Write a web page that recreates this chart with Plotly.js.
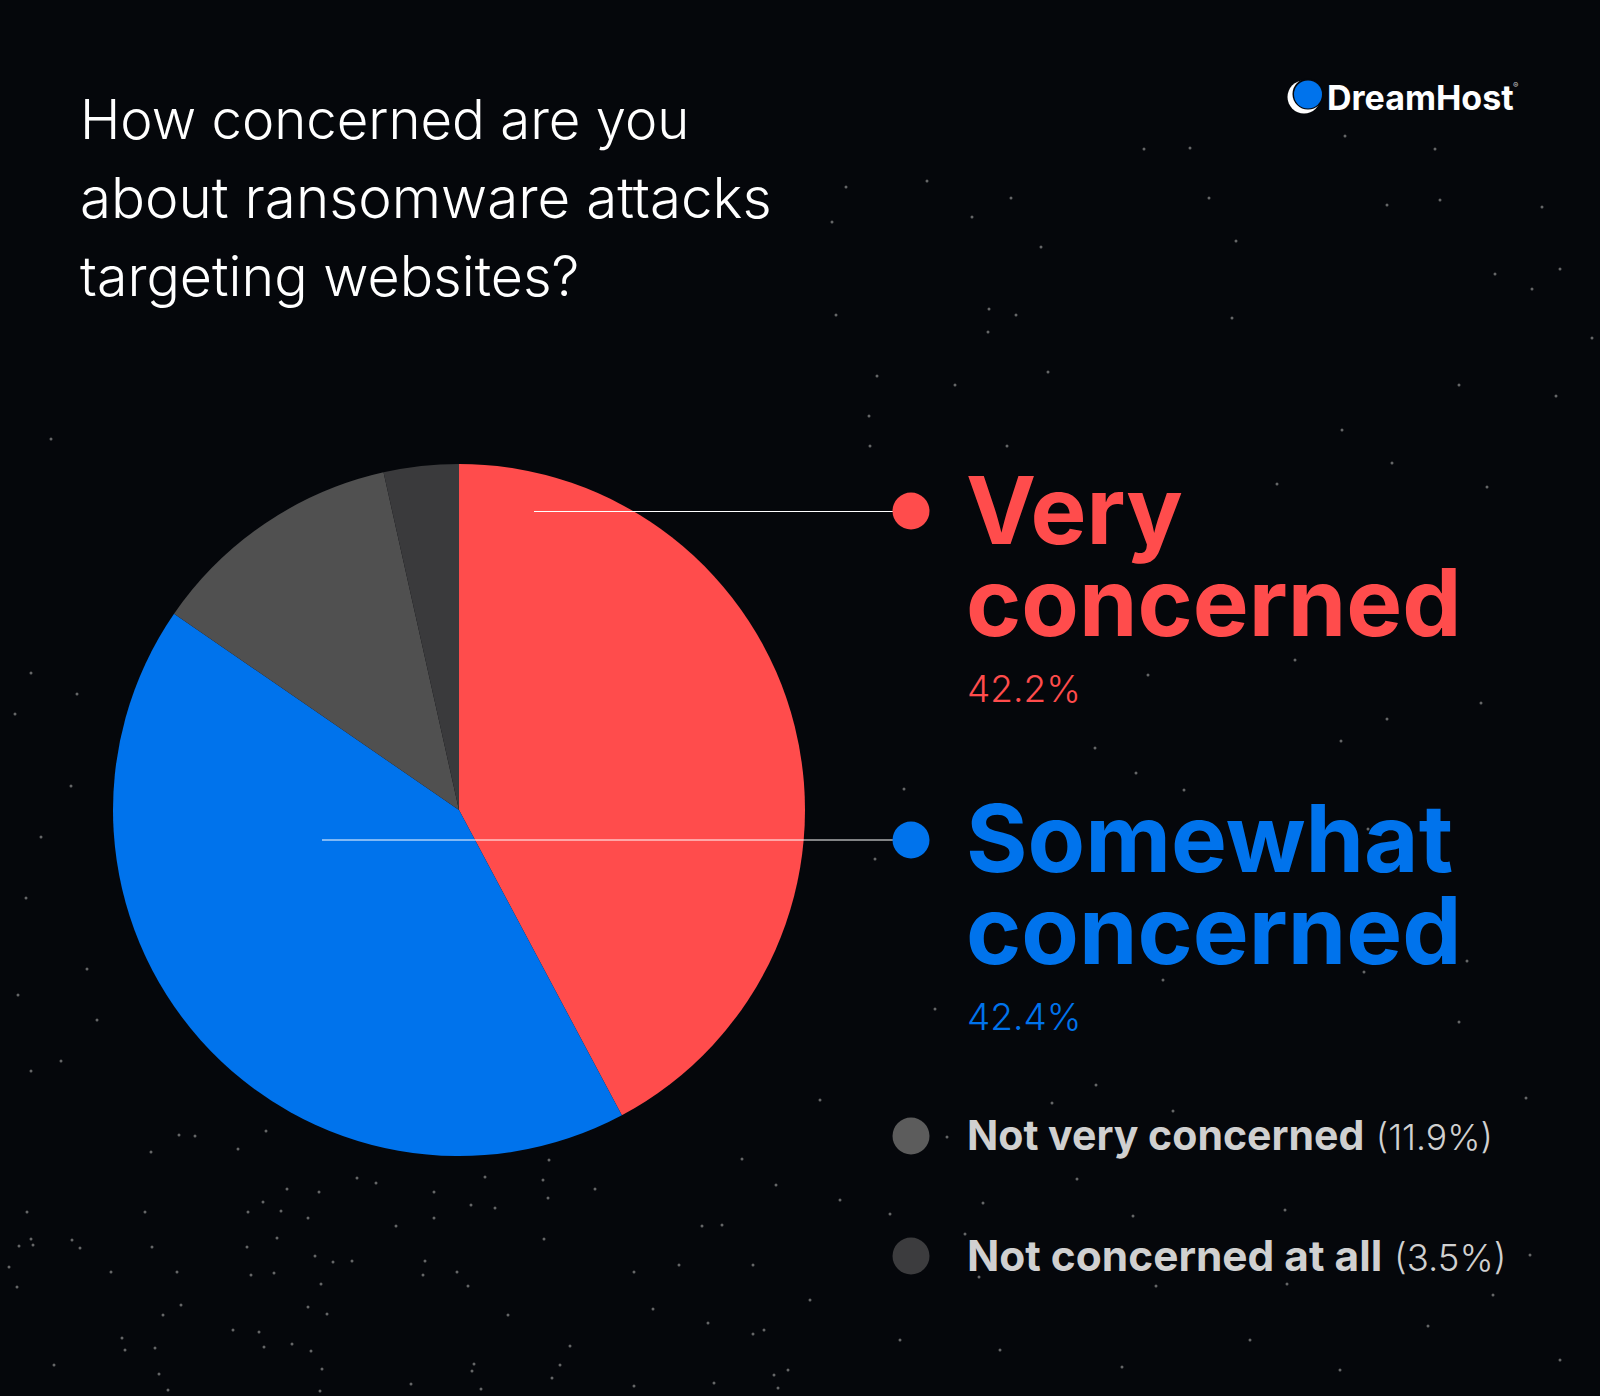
<!DOCTYPE html>
<html><head><meta charset="utf-8">
<script src="https://cdn.plot.ly/plotly-3.0.1.min.js"></script>
<style>html,body{margin:0;padding:0;background:#05070b}</style></head>
<body><div id="chart" style="width:1600px;height:1396px"></div>
<script>
const categories = ["Very concerned","Somewhat concerned","Not very concerned","Not concerned at all"];
const values = [42.2,42.4,11.9,3.5];
const colors = ["#ff4c4c","#0073ec","#505050","#3a3a3c"];
const titleLines = ["How concerned are you","about ransomware attacks","targeting websites?"];
const titleSizes = [54.5,56.5,55.5];
const specksX = [179,195,266,151,238,357,376,485,543,595,548,549,742,776,319,287,263,248,281,145,27,308,434,471,495,434,396,722,702,31,19,33,72,80,152,247,277,544,315,333,352,425,9,111,177,251,274,423,457,634,679,753,321,468,17,181,308,327,163,653,508,708,233,259,764,753,122,155,125,292,311,264,570,560,474,472,322,54,159,774,788,714,552,320,481,411,168,778,634,
1345,1435,1144,1190,846,927,1011,1209,1440,1387,1542,972,832,1236,1041,1495,1560,1532,836,989,1016,1232,988,1592,1048,955,877,1459,1556,869,1342,870,1007,
1392,1277,1487,1295,1148,1481,1387,1341,1095,1136,904,1184,1368,875,1163,1467,1364,1459,935,
1096,1173,1052,947,1077,983,890,1133,965,1285,979,1156,1287,1493,1526,
51,31,77,41,26,87,31,61,97,18,71,15,1122,1428,1530,1250,1000,900,1340,1560,820,840,810];
const specksY = [1135,1136,1131,1152,1149,1178,1183,1177,1180,1189,1198,1160,1159,1185,1192,1189,1202,1212,1211,1212,1212,1218,1192,1205,1208,1218,1226,1225,1226,1239,1246,1245,1240,1248,1247,1247,1238,1239,1256,1262,1261,1261,1267,1272,1272,1275,1273,1275,1272,1272,1265,1265,1284,1286,1287,1305,1307,1314,1315,1309,1315,1323,1330,1332,1330,1334,1338,1348,1350,1344,1351,1347,1346,1365,1364,1371,1369,1365,1374,1375,1370,1383,1378,1391,1389,1384,1390,1388,1386,
136,149,149,148,187,181,198,198,200,205,207,217,222,241,247,274,269,289,315,309,315,318,332,338,372,385,376,385,396,416,430,446,446,
463,484,487,660,675,703,719,741,748,773,789,790,829,859,980,961,972,1022,1009,
1085,1111,1103,1137,1179,1203,1214,1216,1234,1210,1277,1286,1284,1295,1098,
439,673,694,837,898,969,1071,1061,1020,995,786,714,1367,1326,1255,1340,1350,1340,1370,1360,1100,1200,1300];
const FONT = "Inter, sans-serif";
const W=1600,H=1396;
const ann=[];
function t(x,y,text,size,color,weight){ann.push({x,y,xref:'x',yref:'y',xanchor:'left',yanchor:'middle',showarrow:false,text,align:'left',borderpad:0,font:{family:FONT,size,color,weight}});}
titleLines.forEach((s,i)=>t(79,119+i*78,s,titleSizes[i],"#ffffff",300));
t(965,510,"Very",94,colors[0],700);
t(965,602,"concerned",94,colors[0],700);
t(966,688,"42.2%",37,colors[0],300);
t(965,838,"Somewhat",94,colors[1],700);
t(965,930,"concerned",94,colors[1],700);
t(966,1016,"42.4%",37,colors[1],300);
t(966,1135,'<b>Not very concerned</b> <span style="font-size:35.5px">(11.9%)</span>',41,"#d0d0d0",300);
t(966,1255,'<b>Not concerned at all</b> <span style="font-size:36.5px">(3.5%)</span>',42.4,"#d0d0d0",300);
t(1326,97,"<b>DreamHost</b>",34,"#ffffff",700);
t(1512,85,"®",8,"#c8c8c8",400);
function circle(cx,cy,r,c){return {type:'circle',xref:'x',yref:'y',x0:cx-r,x1:cx+r,y0:cy-r,y1:cy+r,fillcolor:c,line:{width:0}};}
function line(x0,x1,y){return {type:'line',xref:'x',yref:'y',x0,x1,y0:y,y1:y,line:{color:'#ffffff',width:1}};}
const shapes=[line(534,893,511.5),line(322,893,840),
 circle(911,511,18.5,colors[0]),circle(911,840,18.5,colors[1]),circle(911,1136,18.5,"#5c5c5c"),circle(911,1256,18.5,"#3c3c3e"),
 circle(1304,97,16.5,"#ffffff"),circle(1308,94,15.5,"#05070b"),circle(1308,94.5,14,"#0073ec")];
const specks={type:'scatter',mode:'markers',x:specksX,y:specksY,hoverinfo:'skip',showlegend:false,marker:{size:3,color:'#9a9a9a',opacity:0.65,line:{width:0}}};
const pie={type:'pie',labels:categories,values,sort:false,direction:'clockwise',rotation:0,textinfo:'none',hoverinfo:'label+percent',showlegend:false,
 marker:{colors,line:{width:0}},domain:{x:[113/W,805/W],y:[1-1156/H,1-464/H]}};
const axis={visible:false,fixedrange:true};
Plotly.newPlot('chart',[specks,pie],{width:W,height:H,margin:{l:0,r:0,t:0,b:0},paper_bgcolor:'#05070b',plot_bgcolor:'#05070b',
 xaxis:{...axis,range:[0,W]},yaxis:{...axis,range:[H,0]},annotations:ann,shapes},{displayModeBar:false});
</script></body></html>
